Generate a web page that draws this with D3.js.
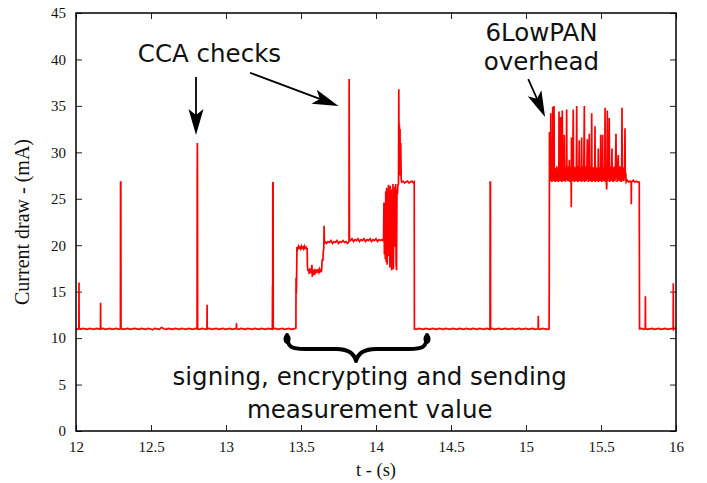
<!DOCTYPE html>
<html>
<head>
<meta charset="utf-8">
<script src="https://cdn.jsdelivr.net/npm/d3@7"></script>
<style>
  html, body { margin: 0; padding: 0; background: #fff; }
  svg { display: block; }
</style>
</head>
<body>
<svg id="chart" width="707" height="483"></svg>
<script>
// ---------------- DATA ----------------
const xTicks = [12, 12.5, 13, 13.5, 14, 14.5, 15, 15.5, 16];
const yTicks = [0, 5, 10, 15, 20, 25, 30, 35, 40, 45];
const xLabel = "t - (s)";
const yLabel = "Current draw - (mA)";
const annotationTexts = ["CCA checks", "6LowPAN", "overhead", "signing, encrypting and sending", "measurement value"];

// [time (s), current (mA)]
const idleBefore = [
[12.000,11.05],[12.010,10.95],[12.019,11.0],[12.020,16.0],[12.021,11.05],[12.030,10.95],[12.045,11.05],[12.060,11.0],[12.075,10.95],[12.090,11.05],[12.105,11.0],[12.120,10.95],[12.135,11.05],[12.150,11.0],[12.163,10.95],[12.164,13.8],[12.165,11.0],[12.180,11.05],[12.195,10.95],[12.210,11.0],[12.225,11.05],[12.240,10.95],[12.255,11.0],[12.270,11.05],[12.285,10.95],[12.296,11.0],[12.297,26.8],[12.299,26.8],[12.300,11.05],[12.315,10.95],[12.330,11.0],[12.345,11.05],[12.360,10.95],[12.375,11.0],[12.390,11.05],[12.405,11.0],[12.420,10.95],[12.435,11.05],[12.450,11.0],[12.465,10.95],[12.480,11.05],[12.495,11.0],[12.510,10.9],[12.525,11.05],[12.540,11.0],[12.555,10.95],[12.570,11.15],[12.585,11.0],[12.600,10.95],[12.615,11.05],[12.630,11.0],[12.645,10.95],[12.660,11.05],[12.675,11.0],[12.690,10.95],[12.705,11.05],[12.720,11.0],[12.735,10.95],[12.750,11.05],[12.765,11.0],[12.780,10.95],[12.795,11.05],[12.807,11.0],[12.808,27.0],[12.809,31.0],[12.810,27.0],[12.811,11.0],[12.825,10.95],[12.840,11.05],[12.855,11.0],[12.873,10.95],[12.874,13.6],[12.875,11.0],[12.890,11.05],[12.905,10.95],[12.920,11.0],[12.935,11.05],[12.950,10.95],[12.965,11.0],[12.980,11.05],[12.995,10.95],[13.010,11.0],[13.025,11.05],[13.040,10.95],[13.055,11.0],[13.069,11.05],[13.070,11.6],[13.071,11.0],[13.085,10.95],[13.100,11.05],[13.115,11.0],[13.130,10.95],[13.145,11.05],[13.160,11.0],[13.175,10.95],[13.190,11.05],[13.205,11.0],[13.220,10.95],[13.235,11.05],[13.250,11.0],[13.265,10.95],[13.280,11.05],[13.295,11.0],[13.309,10.95],[13.310,15.7],[13.311,11.2],[13.312,26.8],[13.314,26.7],[13.315,11.0],[13.330,11.05],[13.345,10.95],[13.360,11.0],[13.375,11.05],[13.390,10.95],[13.405,11.0],[13.420,11.05],[13.435,10.95],[13.450,11.0],[13.465,11.05]
];

const signing = [
[13.466,11.0],[13.467,16.5],[13.469,14.8],[13.471,16.6],[13.473,19.8],[13.478,19.6],[13.483,19.9],[13.488,19.7],[13.493,19.8],[13.498,19.6],[13.503,19.9],[13.508,19.7],[13.513,19.8],[13.518,19.6],[13.523,19.9],[13.528,19.7],[13.533,19.8],[13.538,19.6],[13.541,19.7],[13.543,17.6],[13.547,17.2],[13.551,17.4],[13.555,16.9],[13.559,17.5],[13.563,17.2],[13.567,17.0],[13.571,17.4],[13.573,17.9],[13.575,16.6],[13.579,17.3],[13.583,17.1],[13.587,17.4],[13.591,16.8],[13.595,17.3],[13.599,17.2],[13.603,17.0],[13.607,17.4],[13.611,17.2],[13.615,17.3],[13.619,17.1],[13.623,17.4],[13.627,17.2],[13.631,17.3],[13.635,17.1],[13.638,17.4],[13.640,18.2],[13.643,18.5],[13.646,18.3],[13.649,19.4],[13.652,19.6],[13.654,22.1],[13.656,20.2],[13.660,20.4],[13.670,20.2],[13.680,20.4],[13.690,20.3],[13.700,20.5],[13.710,20.2],[13.720,20.4],[13.730,20.3],[13.740,20.5],[13.750,20.2],[13.760,20.4],[13.770,20.3],[13.780,20.5],[13.790,20.3],[13.800,20.4],[13.810,20.2],[13.820,20.4],[13.821,37.9],[13.823,20.6],[13.830,20.5],[13.840,20.7],[13.850,20.4],[13.860,20.6],[13.870,20.5],[13.880,20.7],[13.890,20.4],[13.900,20.6],[13.910,20.5],[13.920,20.7],[13.930,20.4],[13.940,20.6],[13.950,20.5],[13.960,20.7],[13.970,20.4],[13.980,20.6],[13.990,20.5],[14.000,20.7],[14.010,20.4],[14.020,20.6],[14.030,20.5],[14.040,20.6],[14.048,20.5],
[14.050,20.5],[14.053,24.6],[14.056,19.0],[14.059,22.8],[14.062,18.5],[14.065,25.8],[14.068,18.2],[14.071,26.2],[14.074,17.9],[14.077,24.0],[14.080,19.5],[14.083,26.5],[14.086,18.8],[14.089,25.5],[14.092,17.6],[14.095,26.4],[14.098,19.2],[14.101,26.0],[14.104,17.3],[14.107,24.8],[14.110,18.6],[14.113,26.6],[14.116,17.4],[14.119,25.2],[14.122,19.8],[14.125,26.3],[14.128,20.5],[14.131,26.6],[14.134,18.0],[14.137,17.3],[14.140,26.0],[14.143,25.5],[14.146,26.5],[14.150,26.6],[14.152,36.8],[14.154,27.5],[14.156,33.0],[14.158,29.0],[14.160,32.5],[14.162,27.5],[14.165,31.0],[14.168,27.0],[14.172,26.8],[14.180,26.9],[14.190,26.7],[14.200,26.8],[14.210,26.9],[14.220,26.7],[14.230,26.8],[14.240,26.9],[14.250,26.7],[14.255,26.8],[14.256,11.0]
];

const idleBetween = [
[14.257,11.0],[14.270,10.95],[14.285,11.05],[14.300,11.0],[14.315,10.95],[14.330,11.05],[14.345,11.0],[14.360,10.95],[14.375,11.05],[14.390,11.0],[14.405,10.95],[14.420,11.05],[14.435,11.0],[14.450,10.95],[14.465,11.05],[14.480,11.0],[14.495,10.95],[14.510,11.05],[14.525,11.0],[14.540,10.95],[14.555,11.05],[14.570,11.0],[14.585,10.95],[14.600,11.05],[14.615,11.0],[14.630,10.95],[14.645,11.05],[14.660,11.0],[14.675,10.95],[14.690,11.05],[14.705,11.0],[14.720,10.95],[14.735,11.05],[14.750,11.0],[14.760,10.95],[14.761,26.8],[14.763,26.8],[14.764,11.0],[14.775,11.05],[14.790,10.95],[14.805,11.0],[14.820,11.05],[14.835,10.95],[14.850,11.0],[14.865,11.05],[14.880,10.95],[14.895,11.0],[14.910,11.05],[14.925,10.95],[14.940,11.0],[14.955,11.05],[14.970,10.95],[14.985,11.0],[15.000,11.05],[15.015,10.95],[15.030,11.0],[15.045,11.05],[15.060,10.95],[15.075,11.0],[15.081,11.05],[15.082,12.4],[15.083,11.0],[15.095,10.95],[15.110,11.05],[15.125,11.0],[15.140,10.95],[15.153,11.0]
];

const lowpan = [
[15.154,11.0],[15.155,16.1],[15.156,26.8],[15.1565,32.2],[15.158,27.0],[15.161,28.3],[15.164,26.9],[15.165,34.2],[15.167,27.2],[15.170,28.5],[15.173,26.8],[15.177,28.1],[15.178,34.9],[15.180,27.0],[15.183,28.4],[15.186,26.9],[15.187,35.0],[15.189,27.3],[15.192,28.2],[15.195,26.8],[15.198,27.9],[15.200,28.3],[15.203,26.9],[15.206,28.5],[15.209,27.1],[15.212,28.2],[15.215,26.8],[15.219,27.5],[15.220,34.4],[15.222,27.0],[15.225,28.4],[15.228,26.9],[15.231,33.8],[15.233,27.2],[15.236,28.3],[15.239,26.8],[15.242,34.5],[15.244,27.1],[15.247,28.5],[15.250,26.9],[15.253,28.0],[15.255,31.9],[15.257,27.0],[15.260,28.4],[15.263,26.8],[15.266,28.2],[15.269,27.3],[15.271,34.6],[15.273,27.0],[15.276,28.5],[15.279,26.9],[15.282,28.1],[15.285,27.2],[15.289,29.2],[15.291,26.8],[15.294,28.3],[15.297,27.0],[15.300,28.4],[15.302,24.1],[15.303,31.6],[15.305,27.1],[15.308,28.2],[15.311,26.9],[15.315,34.6],[15.317,27.0],[15.320,28.5],[15.323,26.8],[15.326,28.0],[15.329,27.3],[15.332,28.4],[15.335,26.9],[15.338,35.0],[15.340,27.1],[15.343,28.3],[15.346,26.8],[15.349,28.5],[15.352,27.0],[15.355,31.3],[15.357,26.9],[15.360,28.2],[15.363,27.2],[15.366,28.4],[15.369,26.8],[15.371,31.6],[15.373,27.0],[15.376,28.5],[15.379,26.9],[15.382,28.1],[15.385,27.3],[15.389,35.0],[15.391,26.8],[15.394,28.3],[15.397,27.0],[15.400,28.5],[15.403,26.9],[15.406,28.2],[15.409,31.4],[15.411,27.1],[15.414,28.4],[15.417,26.8],[15.422,32.0],[15.424,27.0],[15.427,28.3],[15.430,26.9],[15.433,28.5],[15.436,27.2],[15.438,34.2],[15.440,26.8],[15.443,28.1],[15.446,27.0],[15.449,28.4],[15.452,26.9],[15.455,28.2],[15.458,27.3],[15.460,32.8],[15.462,26.8],[15.465,28.5],[15.468,27.0],[15.471,28.3],[15.474,26.9],[15.477,28.0],[15.480,27.1],[15.482,30.4],[15.484,26.8],[15.487,28.4],[15.490,27.0],[15.493,28.2],[15.496,26.9],[15.498,31.9],[15.500,27.2],[15.503,28.5],[15.506,26.8],[15.509,28.1],[15.511,31.9],[15.513,27.0],[15.516,28.3],[15.519,26.9],[15.522,28.4],[15.525,27.1],[15.527,34.8],[15.529,26.8],[15.532,28.2],[15.535,27.0],[15.538,26.0],[15.540,28.3],[15.542,34.5],[15.544,26.9],[15.547,28.4],[15.550,27.2],[15.553,28.1],[15.555,33.7],[15.557,26.8],[15.560,28.5],[15.563,27.0],[15.566,28.3],[15.569,26.9],[15.573,30.4],[15.575,27.1],[15.578,28.2],[15.581,26.8],[15.584,28.4],[15.587,27.0],[15.590,28.5],[15.593,26.9],[15.596,28.1],[15.600,32.0],[15.602,27.2],[15.605,28.3],[15.608,26.8],[15.611,28.4],[15.615,29.7],[15.617,27.0],[15.620,28.2],[15.623,26.9],[15.626,28.5],[15.629,27.1],[15.632,28.0],[15.635,26.8],[15.638,28.3],[15.640,34.8],[15.642,27.0],[15.645,28.4],[15.648,26.9],[15.651,28.1],[15.654,27.2],[15.657,28.3],[15.660,32.6],[15.662,26.9],[15.665,27.8],[15.668,26.8],[15.675,27.0],[15.685,26.8],[15.695,26.9],[15.701,26.8],[15.702,24.4],[15.703,26.8],[15.715,27.0],[15.725,26.8],[15.735,26.9],[15.745,26.8],[15.755,26.8],[15.757,11.0]
];

const idleAfter = [
[15.758,11.0],[15.770,11.05],[15.785,10.95],[15.795,11.0],[15.796,14.5],[15.797,11.05],[15.810,10.95],[15.825,11.0],[15.840,11.05],[15.855,10.95],[15.870,11.0],[15.885,11.05],[15.900,10.95],[15.915,11.0],[15.930,11.05],[15.945,10.95],[15.960,11.0],[15.975,11.05],[15.981,10.95],[15.982,15.9],[15.983,11.0],[15.990,11.05],[16.000,11.0]
];

// ---------------- CHART ----------------
const W = 707, H = 483;
const margin = {left: 76, right: 31, top: 13, bottom: 52};
const iw = W - margin.left - margin.right;
const ih = H - margin.top - margin.bottom;

const svg = d3.select("#chart");
const g = svg.append("g").attr("transform", `translate(${margin.left},${margin.top})`);

const x = d3.scaleLinear().domain([12, 16]).range([0, iw]);
const y = d3.scaleLinear().domain([0, 45]).range([ih, 0]);

const tickFont = "'Liberation Serif', 'Times New Roman', serif";
const tl = 6;

function styleAxis(sel, withText) {
  sel.select(".domain").remove();
  sel.selectAll(".tick line").attr("stroke", "#222").attr("stroke-width", 1);
  sel.selectAll(".tick text")
     .attr("font-family", tickFont).attr("font-size", 15).attr("fill", "#111");
  if (!withText) sel.selectAll(".tick text").remove();
}

g.append("g").attr("transform", `translate(0,${ih})`)
  .call(d3.axisBottom(x).tickValues(xTicks).tickSize(-tl).tickPadding(10).tickFormat(d => String(d)))
  .call(s => styleAxis(s, true));
g.append("g")
  .call(d3.axisTop(x).tickValues(xTicks).tickSize(-tl).tickFormat(""))
  .call(s => styleAxis(s, false));
g.append("g")
  .call(d3.axisLeft(y).tickValues(yTicks).tickSize(-tl).tickPadding(10).tickFormat(d => String(d)))
  .call(s => styleAxis(s, true));
g.append("g").attr("transform", `translate(${iw},0)`)
  .call(d3.axisRight(y).tickValues(yTicks).tickSize(-tl).tickFormat(""))
  .call(s => styleAxis(s, false));

// signal
const allPoints = [].concat(idleBefore, signing, idleBetween, lowpan, idleAfter);
const line = d3.line().x(d => x(d[0])).y(d => y(d[1]));
g.append("path")
  .datum(allPoints)
  .attr("d", line)
  .attr("fill", "none")
  .attr("stroke", "#ff0000")
  .attr("stroke-width", 1.7)
  .attr("stroke-linejoin", "miter");

// frame
g.append("rect").attr("x", 0).attr("y", 0).attr("width", iw).attr("height", ih)
  .attr("fill", "none").attr("stroke", "#000").attr("stroke-width", 1.5);

// axis titles
svg.append("text")
  .attr("x", margin.left + iw / 2).attr("y", 476)
  .attr("text-anchor", "middle")
  .attr("font-family", tickFont).attr("font-size", 18.5).attr("fill", "#111")
  .text(xLabel);
svg.append("text")
  .attr("transform", `translate(29,${margin.top + ih / 2}) rotate(-90)`)
  .attr("text-anchor", "middle")
  .attr("font-family", tickFont).attr("font-size", 20).attr("fill", "#111")
  .text(yLabel);

// annotations
const annFont = "'DejaVu Sans', sans-serif";
function annText(t, tx, vy) {
  g.append("text").attr("x", x(tx)).attr("y", y(vy))
    .attr("text-anchor", "middle").attr("font-family", annFont)
    .attr("font-size", 24.5).attr("fill", "#111").text(t);
}
annText(annotationTexts[0], 12.89, 39.72);
annText(annotationTexts[1], 15.103, 41.99);
annText(annotationTexts[2], 15.103, 38.86);
annText(annotationTexts[3], 13.958, 5.0);
annText(annotationTexts[4], 13.958, 1.35);

function arrow(t0, v0, t1, v1) {
  const x0 = x(t0), y0 = y(v0), x1 = x(t1), y1 = y(v1);
  const ang = Math.atan2(y1 - y0, x1 - x0);
  const L = 26, hw = 7.5, notch = 20;
  const ca = Math.cos(ang), sa = Math.sin(ang);
  const pt = (a, b) => [x1 + a * ca - b * sa, y1 + a * sa + b * ca];
  g.append("line")
    .attr("x1", x0).attr("y1", y0)
    .attr("x2", pt(-notch, 0)[0]).attr("y2", pt(-notch, 0)[1])
    .attr("stroke", "#000").attr("stroke-width", 1.8);
  const head = [pt(0, 0), pt(-L, -hw), pt(-notch, 0), pt(-L, hw)];
  g.append("path").attr("d", "M" + head.map(p => p.join(",")).join("L") + "Z")
    .attr("fill", "#000");
}
arrow(12.8, 38.11, 12.8, 31.87);
arrow(13.16, 38.57, 13.75, 34.99);
arrow(15.015, 37.89, 15.127, 33.80);

// curly brace
{
  const xl = x(13.407), xr = x(14.34), xc = x(13.867);
  const yTop = y(10.33), yBar = y(8.83), yTip = y(7.54);
  const p = d3.path();
  p.moveTo(xl, yTop);
  p.bezierCurveTo(xl, yBar - 1, xl + 5, yBar, xl + 18, yBar);
  p.lineTo(xc - 20, yBar);
  p.bezierCurveTo(xc - 8, yBar, xc - 2, yBar + 4, xc, yTip);
  p.bezierCurveTo(xc + 2, yBar + 4, xc + 8, yBar, xc + 20, yBar);
  p.lineTo(xr - 18, yBar);
  p.bezierCurveTo(xr - 5, yBar, xr, yBar - 1, xr, yTop);
  g.append("path").attr("d", p.toString())
    .attr("fill", "none").attr("stroke", "#000").attr("stroke-width", 4)
    .attr("stroke-linecap", "round").attr("stroke-linejoin", "round");
  // thicker hooked ends like the brace glyph
  [xl, xr].forEach(ex => {
    g.append("ellipse").attr("cx", ex).attr("cy", yTop + 4).attr("rx", 3.5).attr("ry", 5)
      .attr("fill", "#000");
  });
}
</script>
</body>
</html>
